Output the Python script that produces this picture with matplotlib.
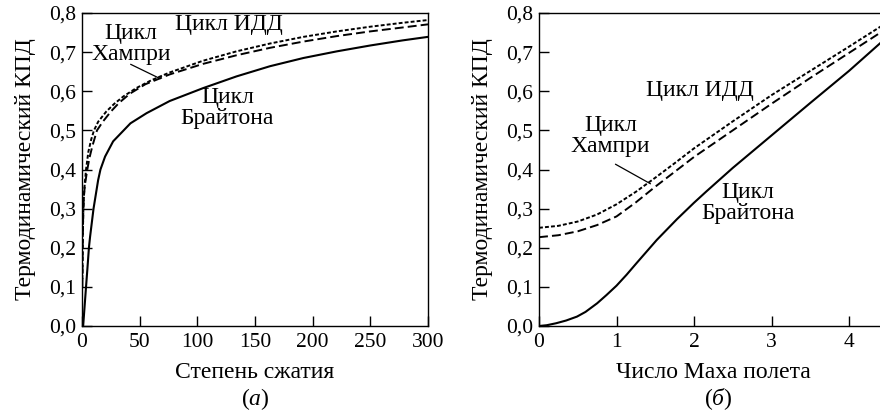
import matplotlib
matplotlib.use("Agg")
import matplotlib.pyplot as plt

plt.rcParams.update({
    "font.family": ["Liberation Serif", "DejaVu Serif"],
    "font.size": 17,
    "mathtext.fontset": "custom",
    "mathtext.rm": "Liberation Serif",
    "mathtext.it": "Liberation Serif:italic",
    "axes.linewidth": 1.0,
})

# ── Data ──────────────────────────────────────────────────────────────────────

# (а) efficiency vs compression ratio
pr_brayton = [1, 1.5, 2.5, 3.5, 4.6, 6, 7, 10, 14, 16, 20, 27, 42, 56, 76,
              105, 134, 163, 192, 221, 250, 278, 300]
eta_brayton_a = [0.0, 0.02, 0.06, 0.10, 0.143, 0.20, 0.228, 0.30, 0.373, 0.40,
                 0.433, 0.472, 0.518, 0.544, 0.575, 0.608, 0.638, 0.664, 0.685,
                 0.702, 0.717, 0.730, 0.739]

pr_humphrey = [0.3, 0.6, 1, 1.6, 2.5, 4.6, 6.5, 9, 13, 18, 25, 32, 41.6, 55, 76,
               105, 134, 163, 192, 221, 250, 278, 300]
eta_humphrey_a = [0.10, 0.20, 0.28, 0.33, 0.36, 0.40, 0.43, 0.46, 0.50, 0.522,
                  0.548, 0.57, 0.594, 0.618, 0.643, 0.670, 0.692, 0.711, 0.727,
                  0.741, 0.753, 0.763, 0.771]

pr_idd = [0.3, 0.6, 1.2, 2, 3.5, 5.5, 8, 10.4, 14, 21, 28, 36, 47, 60, 76,
          105, 134, 163, 192, 221, 250, 278, 300]
eta_idd_a = [0.12, 0.22, 0.30, 0.35, 0.40, 0.445, 0.477, 0.50, 0.522, 0.548,
             0.568, 0.587, 0.608, 0.628, 0.648, 0.678, 0.702, 0.722, 0.739,
             0.753, 0.765, 0.775, 0.782]

# (б) efficiency vs flight Mach number
mach_brayton = [0, 0.1, 0.22, 0.35, 0.49, 0.6, 0.75, 0.87, 1.0, 1.13, 1.26,
                1.52, 1.78, 2.0, 2.16, 2.5, 3.0, 3.5, 4.0, 4.5]
eta_brayton_b = [0.0, 0.002, 0.007, 0.014, 0.024, 0.036, 0.058, 0.079, 0.103,
                 0.131, 0.161, 0.22, 0.273, 0.315, 0.344, 0.404, 0.487, 0.57,
                 0.652, 0.74]

mach = [0, 0.25, 0.5, 0.75, 1.0, 1.25, 1.5, 1.75, 2.0, 2.5, 3.0, 3.5, 4.0, 4.5]
eta_humphrey_b = [0.227, 0.232, 0.242, 0.258, 0.28, 0.316, 0.356, 0.394,
                  0.432, 0.50, 0.568, 0.634, 0.698, 0.762]
eta_idd_b = [0.251, 0.256, 0.267, 0.285, 0.311, 0.343, 0.379, 0.416, 0.454,
             0.523, 0.59, 0.652, 0.714, 0.777]

y_ticks = [0.0, 0.1, 0.2, 0.3, 0.4, 0.5, 0.6, 0.7, 0.8]
y_labels = ["0,0", "0,1", "0,2", "0,3", "0,4", "0,5", "0,6", "0,7", "0,8"]
xa_ticks = [0, 50, 100, 150, 200, 250, 300]
xb_ticks = [0, 1, 2, 3, 4]

# ── Styles ────────────────────────────────────────────────────────────────────

SOLID = dict(color="black", lw=1.5, ls="-")
DASHED = dict(color="black", lw=1.4, ls=(0, (4.6, 2.1)))
DOTTED = dict(color="black", lw=1.4, ls=(0, (2.0, 1.1)))
FS = 17


def style_axes(ax, xticks, xlim):
    ax.set_xlim(*xlim)
    ax.set_ylim(0, 0.8)
    ax.set_yticks(y_ticks)
    ax.set_yticklabels(y_labels)
    ax.set_xticks(xticks)
    ax.set_xticklabels([str(t) for t in xticks])
    ax.tick_params(direction="in", length=7, width=1.0, labelsize=15.5)
    ax.tick_params(axis="y", pad=4)
    ax.tick_params(axis="x", pad=5)
    ax.set_ylabel("Термодинамический КПД", fontsize=FS)
    ax.yaxis.set_label_coords(-0.133, 0.5)


fig = plt.figure(figsize=(8.8, 4.15), dpi=100)
W, H = 880, 415
ax1 = fig.add_axes([82 / W, 89 / H, 346 / W, 313 / H])
ax2 = fig.add_axes([539 / W, 89 / H, 348.75 / W, 313 / H])

# ── Panel (а) ─────────────────────────────────────────────────────────────────
ax1.plot(pr_brayton, eta_brayton_a, **SOLID)
ax1.plot(pr_humphrey, eta_humphrey_a, **DASHED)
ax1.plot(pr_idd, eta_idd_a, **DOTTED)
style_axes(ax1, xa_ticks, (0, 300))
ax1.text(0.5, -0.147, "Степень сжатия", transform=ax1.transAxes,
         ha="center", va="center", fontsize=FS)
ax1.text(0.5, -0.232, r"($\mathit{а}$)", transform=ax1.transAxes,
         ha="center", va="center", fontsize=FS)

ax1.text(127, 0.77, "Цикл ИДД", ha="center", va="center", fontsize=FS)
ax1.text(42.5, 0.721, "Цикл\nХампри", ha="center", va="center",
         fontsize=FS, linespacing=1.0)
ax1.text(126, 0.557, "Цикл\nБрайтона", ha="center", va="center",
         fontsize=FS, linespacing=1.0)
ax1.annotate("", xy=(70, 0.629), xytext=(40, 0.672),
             arrowprops=dict(arrowstyle="-", color="black", lw=0.9))

# ── Panel (б) ─────────────────────────────────────────────────────────────────
ax2.plot(mach_brayton, eta_brayton_b, **SOLID)
ax2.plot(mach, eta_humphrey_b, **DASHED)
ax2.plot(mach, eta_idd_b, **DOTTED)
style_axes(ax2, xb_ticks, (0, 4.5))
ax2.text(0.499, -0.147, "Число Маха полета", transform=ax2.transAxes,
         ha="center", va="center", fontsize=FS)
ax2.text(0.513, -0.232, r"($\mathit{б}$)", transform=ax2.transAxes,
         ha="center", va="center", fontsize=FS)

ax2.text(2.08, 0.603, "Цикл ИДД", ha="center", va="center", fontsize=FS)
ax2.text(0.92, 0.486, "Цикл\nХампри", ha="center", va="center",
         fontsize=FS, linespacing=1.0)
ax2.text(2.70, 0.314, "Цикл\nБрайтона", ha="center", va="center",
         fontsize=FS, linespacing=1.0)
ax2.annotate("", xy=(1.47, 0.36), xytext=(0.955, 0.417),
             arrowprops=dict(arrowstyle="-", color="black", lw=0.9))

fig.savefig("out.png", dpi=100)
